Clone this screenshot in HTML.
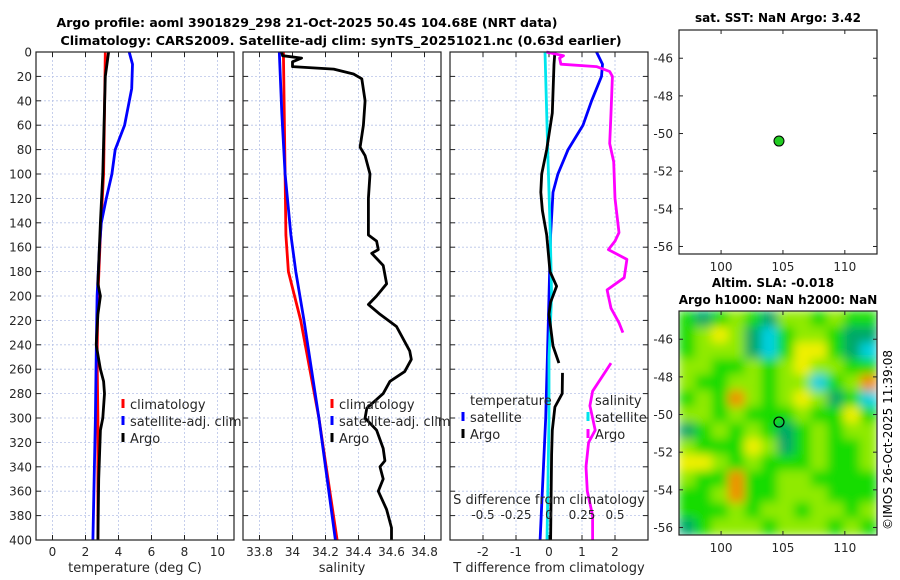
<!DOCTYPE html>
<html><head><meta charset="utf-8"><style>
body{margin:0;background:#fff;}
svg{display:block;font-family:"DejaVu Sans","Liberation Sans",sans-serif;}
</style></head><body>
<svg id="fig" width="900" height="580" viewBox="0 0 900 580">
<defs>
<clipPath id="clipMap2"><rect x="679" y="311" width="198" height="224"/></clipPath>
<filter id="blur" x="-10%" y="-10%" width="120%" height="120%"><feGaussianBlur stdDeviation="5" edgeMode="duplicate"/></filter>
</defs>
<text x="307" y="27" text-anchor="middle" font-size="12.5" font-weight="bold">Argo profile: aoml 3901829_298 21-Oct-2025 50.4S 104.68E (NRT data)</text>
<text x="341" y="45" text-anchor="middle" font-size="12.8" font-weight="bold">Climatology: CARS2009. Satellite-adj clim: synTS_20251021.nc (0.63d earlier)</text>
<text x="778" y="22" text-anchor="middle" font-size="12" font-weight="bold">sat. SST: NaN Argo: 3.42</text>
<text x="773" y="287" text-anchor="middle" font-size="12" font-weight="bold">Altim. SLA: -0.018</text>
<text x="778" y="304" text-anchor="middle" font-size="12" font-weight="bold">Argo h1000: NaN h2000: NaN</text>
<text transform="translate(892,440) rotate(-90)" text-anchor="middle" font-size="12">©IMOS 26-Oct-2025 11:39:08</text>
<g id="plots"></g>
</svg>
<script>
// ---- data ----
const depthTicks=[0,20,40,60,80,100,120,140,160,180,200,220,240,260,280,300,320,340,360,380,400];
const tempTicks=[0,2,4,6,8,10];
const salTicks=[33.8,34,34.2,34.4,34.6,34.8];
const salTickLabels=["33.8","34","34.2","34.4","34.6","34.8"];
const tdiffTicks=[-2,-1,0,1,2];
const sdiffTicks=[-0.5,-0.25,0,0.25,0.5];
const sdiffTickLabels=["-0.5","-0.25","0","0.25","0.5"];

const climTempDepth=[0,50,100,150,200,250,300,400];
const climTemp=[3.2,3.15,3.1,2.9,2.75,2.7,2.75,2.75];
const satTempDepth=[0,10,30,60,80,100,120,140,160,200,250,300,400];
const satTemp=[4.65,4.85,4.8,4.37,3.8,3.6,3.26,2.96,2.85,2.7,2.65,2.6,2.45];
const argoTempDepth=[0,20,100,140,190,200,215,240,260,270,280,300,310,350,400];
const argoTemp=[3.4,3.2,3.05,2.9,2.75,2.9,2.75,2.65,2.9,3.1,3.15,3.05,2.9,2.8,2.75];

const climSalDepth=[0,100,150,180,220,300,400];
const climSal=[33.945,33.955,33.96,33.975,34.05,34.16,34.27];
const satSalDepth=[0,50,100,150,180,220,300,400];
const satSal=[33.92,33.935,33.955,33.99,34.02,34.07,34.16,34.26];
const argoSalDepth=[0,3,5,8,12,14,18,22,40,60,78,85,100,120,150,155,162,165,175,190,200,207,215,225,245,252,262,270,280,292,300,310,325,335,340,350,360,375,390,400];
const argoSal=[33.934,33.94,34.055,34.0,34.0,34.25,34.37,34.42,34.44,34.43,34.41,34.44,34.47,34.46,34.46,34.51,34.52,34.48,34.55,34.57,34.51,34.46,34.53,34.63,34.71,34.72,34.68,34.59,34.55,34.45,34.44,34.51,34.55,34.56,34.53,34.55,34.52,34.57,34.6,34.6];

const satTdiffDepth=[0,10,20,40,60,80,100,115,150,200,250,300,400];
const satTdiff=[1.44,1.62,1.59,1.29,1.03,0.58,0.27,0.12,0.05,0,-0.05,-0.1,-0.27];
const satSdiffDepth=[0,80,150,200,250,300,400];
const satSdiff=[-0.03,-0.01,0.01,0.02,0.0,0.0,-0.015];
const argoTdiffDepth=[0,10,50,80,100,115,130,150,180,192,205,215,241,255];
const argoTdiff=[0.18,0.15,0.1,-0.07,-0.22,-0.25,-0.2,-0.07,0.03,0.23,0.05,0.0,0.12,0.3];
const argoTdiffDepth2=[263,280,291,310,330,400];
const argoTdiff2=[0.41,0.4,0.18,0.1,0.08,0.05];
const argoSdiffDepth=[0,3,5,10,12,16,20,50,75,90,120,148,155,162,170,185,195,210,222,230];
const argoSdiff=[-0.02,0.11,0.08,0.09,0.36,0.46,0.48,0.47,0.46,0.49,0.5,0.53,0.5,0.45,0.59,0.57,0.44,0.47,0.53,0.56];
const argoSdiffDepth2=[255,278,290,300,310,320,340,360,380,400];
const argoSdiff2=[0.47,0.33,0.31,0.33,0.35,0.3,0.28,0.29,0.33,0.33];

const mapLonTicks=[100,105,110];
const mapLatTicks=[-46,-48,-50,-52,-54,-56];
const argoLon=104.68, argoLat=-50.4;
const slaGrid=[
[0,-1,0,1,0,-1,1,1,0,1,0,0],
[0,1,2,1,-1,-2,0,1,1,0,-1,-1],
[0,1,1,1,-1,-2,0,2,2,0,-1,-2],
[1,1,0,0,1,0,1,2,1,1,0,0],
[1,0,0,1,1,0,1,1,-2,0,1,3],
[0,1,0,3,1,0,1,2,1,-1,0,-2],
[1,1,0,1,0,0,0,1,0,0,2,0],
[-1,0,1,0,1,0,-1,0,1,0,1,1],
[1,0,0,0,2,1,-1,0,1,0,0,1],
[2,2,1,0,1,0,0,0,1,0,0,1],
[1,0,0,3,0,0,1,1,0,0,0,0],
[0,0,1,3,0,0,1,1,1,0,0,0],
[0,0,0,1,0,1,1,0,1,1,0,1],
[-1,0,1,1,1,0,1,1,1,0,1,0]];
const slaColors={"-2":"#00d0e0","-1":"#00a868","0":"#18dc00","1":"#90ea00","2":"#f0f000","3":"#f09000"};

// ---- helpers ----
const NS="http://www.w3.org/2000/svg";
const root=document.getElementById('plots');
function mk(tag,attrs,parent){const e=document.createElementNS(NS,tag);for(const k in attrs)e.setAttribute(k,attrs[k]);(parent||root).appendChild(e);return e;}
function txt(x,y,s,size,anchor,parent){const t=mk('text',{x:x,y:y,'font-size':size,'text-anchor':anchor||'middle'},parent);t.textContent=s;return t;}
const Y0=52,Y1=540;
const yD=d=>Y0+(d/400)*(Y1-Y0);
function lin(d0,d1,r0,r1){return v=>r0+(v-d0)/(d1-d0)*(r1-r0);}

function panel(name,x0,x1,xs,xTicks,xLabels,yLabels,title){
  const g=mk('g',{});
  
  
  const grid=mk('g',{stroke:'#b8c4e8','stroke-width':0.8,'stroke-dasharray':'2,2'},g);
  
  
  depthTicks.forEach(d=>{mk('line',{x1:x0,x2:x1,y1:yD(d),y2:yD(d)},grid);});
  xTicks.forEach(v=>{mk('line',{x1:xs(v),x2:xs(v),y1:Y0,y2:Y1},grid);});
  const tk=mk('g',{stroke:'#222','stroke-width':1},g);
  depthTicks.forEach(d=>{mk('line',{x1:x0,x2:x0+5,y1:yD(d),y2:yD(d)},tk);mk('line',{x1:x1-5,x2:x1,y1:yD(d),y2:yD(d)},tk);});
  xTicks.forEach(v=>{mk('line',{x1:xs(v),x2:xs(v),y1:Y1,y2:Y1-5},tk);mk('line',{x1:xs(v),x2:xs(v),y1:Y0,y2:Y0+5},tk);});
  const xl=mk('g',{fill:'#262626'},g);
  
  
  xTicks.forEach((v,i)=>txt(xs(v),556,xLabels[i],12,'middle',xl));
  if(yLabels){const yl=mk('g',{fill:'#262626'},g);
    
    
    depthTicks.forEach(d=>txt(x0-4,yD(d)+4.5,String(d),12,'end',yl));}
  const t=txt((x0+x1)/2,572,title,13,'middle',g);t.setAttribute('fill','#262626');
  
  
  return g;
}
function line(g,xs,depths,vals,color,w,name,dash){
  const p=depths.map((d,i)=>(i?'L':'M')+xs(vals[i]).toFixed(1)+','+yD(d).toFixed(1)).join('');
  const e=mk('path',{d:p,fill:'none',stroke:color,'stroke-width':w,'stroke-linejoin':'round'},g);
  if(dash)e.setAttribute('stroke-dasharray',dash);
  
  
}
function frame(g,x0,x1){mk('rect',{x:x0,y:Y0,width:x1-x0,height:Y1-Y0,fill:'none',stroke:'#222','stroke-width':1.2},g);}
function legItem(g,x,y,color,label,name){
  mk('line',{x1:x,x2:x,y1:y-10,y2:y-1,stroke:color,'stroke-width':3},g);
  const t=txt(x+7,y,label,13,'start',g);t.setAttribute('fill','#262626');
  
  
}

// Panel 1 temperature
const xT=lin(-1,11,36,234);
const p1=panel('temperature-panel',36,234,xT,tempTicks,tempTicks.map(String),true,'temperature (deg C)');
line(p1,xT,climTempDepth,climTemp,'#ff0000',2.8,'temp-climatology-line');
line(p1,xT,satTempDepth,satTemp,'#0000ff',2.8,'temp-satellite-line');
line(p1,xT,argoTempDepth,argoTemp,'#000000',2.8,'temp-argo-line');
frame(p1,36,234);
const l1=mk('g',{},p1);
legItem(l1,123,409,'#ff0000','climatology','legend-climatology');
legItem(l1,123,426,'#0000ff','satellite-adj. clim','legend-satellite-adj');
legItem(l1,123,443,'#000000','Argo','legend-argo');

// Panel 2 salinity
const xS=lin(33.7,34.9,243,441);
const p2=panel('salinity-panel',243,441,xS,salTicks,salTickLabels,false,'salinity');
line(p2,xS,climSalDepth,climSal,'#ff0000',2.8,'sal-climatology-line');
line(p2,xS,satSalDepth,satSal,'#0000ff',2.8,'sal-satellite-line');
line(p2,xS,argoSalDepth,argoSal,'#000000',2.8,'sal-argo-line');
frame(p2,243,441);
const l2=mk('g',{},p2);
legItem(l2,332,409,'#ff0000','climatology','legend-climatology');
legItem(l2,332,426,'#0000ff','satellite-adj. clim','legend-satellite-adj');
legItem(l2,332,443,'#000000','Argo','legend-argo');

// Panel 3 differences
const xTd=lin(-3,3,450,648);
const xSd=lin(-0.75,0.75,450,648);
const p3=panel('difference-panel',450,648,xTd,tdiffTicks,tdiffTicks.map(String),false,'T difference from climatology');
line(p3,xTd,satTdiffDepth,satTdiff,'#0000ff',2.8,'tdiff-satellite-line');
line(p3,xSd,satSdiffDepth,satSdiff,'#00e5ee',2.8,'sdiff-satellite-line');
line(p3,xTd,argoTdiffDepth,argoTdiff,'#000000',2.8,'tdiff-argo-line');
line(p3,xTd,argoTdiffDepth2,argoTdiff2,'#000000',2.8,'tdiff-argo-line-deep');
line(p3,xSd,argoSdiffDepth,argoSdiff,'#ff00ff',2.8,'sdiff-argo-line');
line(p3,xSd,argoSdiffDepth2,argoSdiff2,'#ff00ff',2.8,'sdiff-argo-line-deep');
frame(p3,450,648);
const l3=mk('g',{},p3);
let tt=txt(470,405,'temperature',13,'start',l3);tt.setAttribute('fill','#262626');
legItem(l3,463,422,'#0000ff','satellite','legend-t-satellite');
legItem(l3,463,439,'#000000','Argo','legend-t-argo');
tt=txt(595,405,'salinity',13,'start',l3);tt.setAttribute('fill','#262626');
legItem(l3,588,422,'#00e5ee','satellite','legend-s-satellite');
legItem(l3,588,439,'#ff00ff','Argo','legend-s-argo');
const sax=mk('g',{fill:'#262626'},p3);


txt(549,504,'S difference from climatology',13,'middle',sax);
sdiffTicks.forEach((v,i)=>txt(xSd(v),519,sdiffTickLabels[i],12,'middle',sax));

// Maps
const xLon=lin(96.6,112.6,679,877);
function mapAxes(g,y0,y1,yLat){
  const a=mk('g',{fill:'#262626'},g);
  mapLatTicks.forEach(v=>{mk('line',{x1:679,x2:683,y1:yLat(v),y2:yLat(v),stroke:'#222'},g);mk('line',{x1:873,x2:877,y1:yLat(v),y2:yLat(v),stroke:'#222'},g);txt(673,yLat(v)+4.5,String(v),12,'end',a);});
  mapLonTicks.forEach(v=>{mk('line',{x1:xLon(v),x2:xLon(v),y1:y1,y2:y1-4,stroke:'#222'},g);mk('line',{x1:xLon(v),x2:xLon(v),y1:y0,y2:y0+4,stroke:'#222'},g);txt(xLon(v),y1+17,String(v),12,'middle',a);});
  mk('rect',{x:679,y:y0,width:198,height:y1-y0,fill:'none',stroke:'#222','stroke-width':1.2},g);
}
const m1=mk('g',{});
const yLat1=lin(-44.5,-56.4,30,254);
mk('rect',{x:679,y:30,width:198,height:224,fill:'#fff'},m1);
mapAxes(m1,30,254,yLat1);
const dot=mk('circle',{cx:xLon(argoLon),cy:yLat1(argoLat),r:5,fill:'#22cc22',stroke:'#000','stroke-width':1},m1);



const m2=mk('g',{});
const yLat2=lin(-44.5,-56.4,311,535);
const cg=mk('g',{'clip-path':'url(#clipMap2)'},m2);
const hg=mk('g',{filter:'url(#blur)'},cg);
const nr=slaGrid.length,nc=slaGrid[0].length,cw=198/nc,ch=224/nr;
slaGrid.forEach((row,r)=>row.forEach((v,c)=>{
  const cell=mk('rect',{x:679+c*cw-0.5,y:311+r*ch-0.5,width:cw+1,height:ch+1,fill:slaColors[String(v)]},hg);
  
  
}));
mapAxes(m2,311,535,yLat2);
const ring=mk('circle',{cx:xLon(argoLon),cy:yLat2(argoLat),r:5,fill:'none',stroke:'#000','stroke-width':1.2},m2);


</script>
</body></html>
